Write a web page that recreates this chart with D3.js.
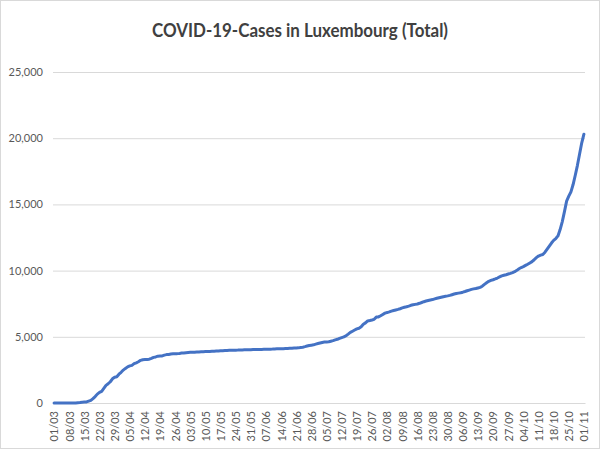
<!DOCTYPE html>
<html>
<head>
<meta charset="utf-8">
<script src="https://cdn.jsdelivr.net/npm/d3@7"></script>
<style>
  body { margin: 0; background: #fff; }
  text { font-family: Lato, "Open Sans", sans-serif; fill: #595959; }
</style>
</head>
<body>
<svg id="chart" width="600" height="449"></svg>
<script>
// total cases per day, one array per month
const casesMar = [1, 1, 1, 1, 2, 2, 3, 3, 3, 5, 7, 26, 34, 59, 77, 81, 140, 203, 335, 484,
  670, 798, 875, 1099, 1333, 1453, 1605, 1831, 1950, 1988, 2178];
const casesApr = [2319, 2487, 2612, 2729, 2804, 2843, 2970, 3034, 3115, 3223,
  3270, 3281, 3292, 3307, 3373, 3444, 3480, 3537, 3550, 3558,
  3618, 3654, 3665, 3695, 3711, 3723, 3729, 3741, 3769, 3784];
const casesMay = [3802, 3812, 3824, 3828, 3840, 3851, 3859, 3871, 3877, 3886,
  3888, 3894, 3904, 3915, 3923, 3930, 3945, 3947, 3958, 3971,
  3980, 3981, 3990, 3993, 3995, 4008, 4012, 4016, 4018, 4019, 4020];
const casesJun = [4032, 4035, 4040, 4044, 4048, 4052, 4055, 4055, 4065, 4072,
  4085, 4093, 4096, 4101, 4104, 4113, 4120, 4133, 4140, 4153,
  4156, 4164, 4194, 4216, 4256, 4301, 4345, 4369, 4395, 4445];
const casesJul = [4490, 4530, 4570, 4600, 4610, 4630, 4670, 4710, 4770, 4810,
  4880, 4940, 4990, 5080, 5200, 5330, 5420, 5510, 5600, 5650,
  5760, 5950, 6050, 6200, 6231, 6270, 6321, 6489, 6501, 6590, 6690];
const casesAug = [6790, 6830, 6880, 6940, 6990, 7030, 7070, 7120, 7180, 7230,
  7270, 7320, 7380, 7420, 7450, 7480, 7530, 7590, 7650, 7700,
  7740, 7780, 7810, 7860, 7910, 7950, 7990, 8030, 8060, 8090, 8130];
const casesSep = [8180, 8230, 8270, 8300, 8330, 8370, 8420, 8480, 8530, 8580,
  8620, 8650, 8690, 8730, 8820, 8960, 9080, 9190, 9260, 9310,
  9370, 9440, 9520, 9600, 9650, 9690, 9740, 9790, 9850, 9920];
const casesOct = [10020, 10140, 10230, 10300, 10390, 10480, 10580, 10680, 10820, 10980,
  11100, 11170, 11220, 11390, 11620, 11850, 12080, 12280, 12420, 12620,
  13100, 13700, 14450, 15250, 15620, 15950, 16500, 17200, 17950, 18800, 19650];
const casesNov = [20300];

const xTickLabels = ["01/03", "08/03", "15/03", "22/03", "29/03", "05/04", "12/04", "19/04",
  "26/04", "03/05", "10/05", "17/05", "24/05", "31/05", "07/06", "14/06", "21/06", "28/06",
  "05/07", "12/07", "19/07", "26/07", "02/08", "09/08", "16/08", "23/08", "30/08", "06/09",
  "13/09", "20/09", "27/09", "04/10", "11/10", "18/10", "25/10", "01/11"];
const yTicks = [0, 5000, 10000, 15000, 20000, 25000];

const cases = [].concat(casesMar, casesApr, casesMay, casesJun, casesJul,
  casesAug, casesSep, casesOct, casesNov);
const fmtDay = d3.timeFormat("%d/%m");
const days = d3.timeDay.range(new Date(2020, 2, 1), new Date(2020, 2, 1 + cases.length))
  .map(fmtDay);
const data = days.map((d, i) => ({ day: d, total: cases[i] }));

const svg = d3.select("#chart");
const plot = { left: 53, right: 585, top: 72, bottom: 403 };

svg.append("rect")
  .attr("x", 0.5).attr("y", 0.5)
  .attr("width", 599).attr("height", 448)
  .attr("fill", "#fff")
  .attr("stroke", "#d9d9d9");

svg.append("text")
  .attr("x", 300).attr("y", 37)
  .attr("text-anchor", "middle")
  .attr("font-size", 19)
  .attr("font-weight", "bold")
  .attr("textLength", 296)
  .attr("lengthAdjust", "spacingAndGlyphs")
  .style("fill", "#404040")
  .text("COVID-19-Cases in Luxembourg (Total)");

const x = d3.scalePoint()
  .domain(days)
  .range([plot.left, plot.right])
  .padding(0.5);

const y = d3.scaleLinear()
  .domain([0, 25000])
  .range([plot.bottom, plot.top]);

// gridlines + y labels
const yAxis = svg.append("g")
  .attr("transform", `translate(${plot.left},0)`)
  .call(d3.axisLeft(y)
    .tickValues(yTicks)
    .tickFormat(d3.format(","))
    .tickSize(-(plot.right - plot.left))
    .tickPadding(10));
yAxis.select(".domain").remove();
yAxis.selectAll("line").attr("stroke", "#d9d9d9");
yAxis.selectAll("text").attr("font-size", 11).style("fill", "#595959");

// x labels
const xAxis = svg.append("g")
  .attr("transform", `translate(0,${plot.bottom})`)
  .call(d3.axisBottom(x).tickValues(xTickLabels).tickSize(0));
xAxis.select(".domain").attr("stroke", "#d9d9d9");
xAxis.selectAll("text")
  .attr("font-size", 11)
  .attr("x", -8)
  .attr("y", 0)
  .attr("dy", "0.35em")
  .attr("transform", "rotate(-90)")
  .style("text-anchor", "end")
  .style("fill", "#595959");

const line = d3.line()
  .x(d => x(d.day))
  .y(d => y(d.total));

svg.append("path")
  .datum(data)
  .attr("fill", "none")
  .attr("stroke", "#4472C4")
  .attr("stroke-width", 3)
  .attr("stroke-linejoin", "round")
  .attr("stroke-linecap", "round")
  .attr("d", line);
</script>
</body>
</html>
